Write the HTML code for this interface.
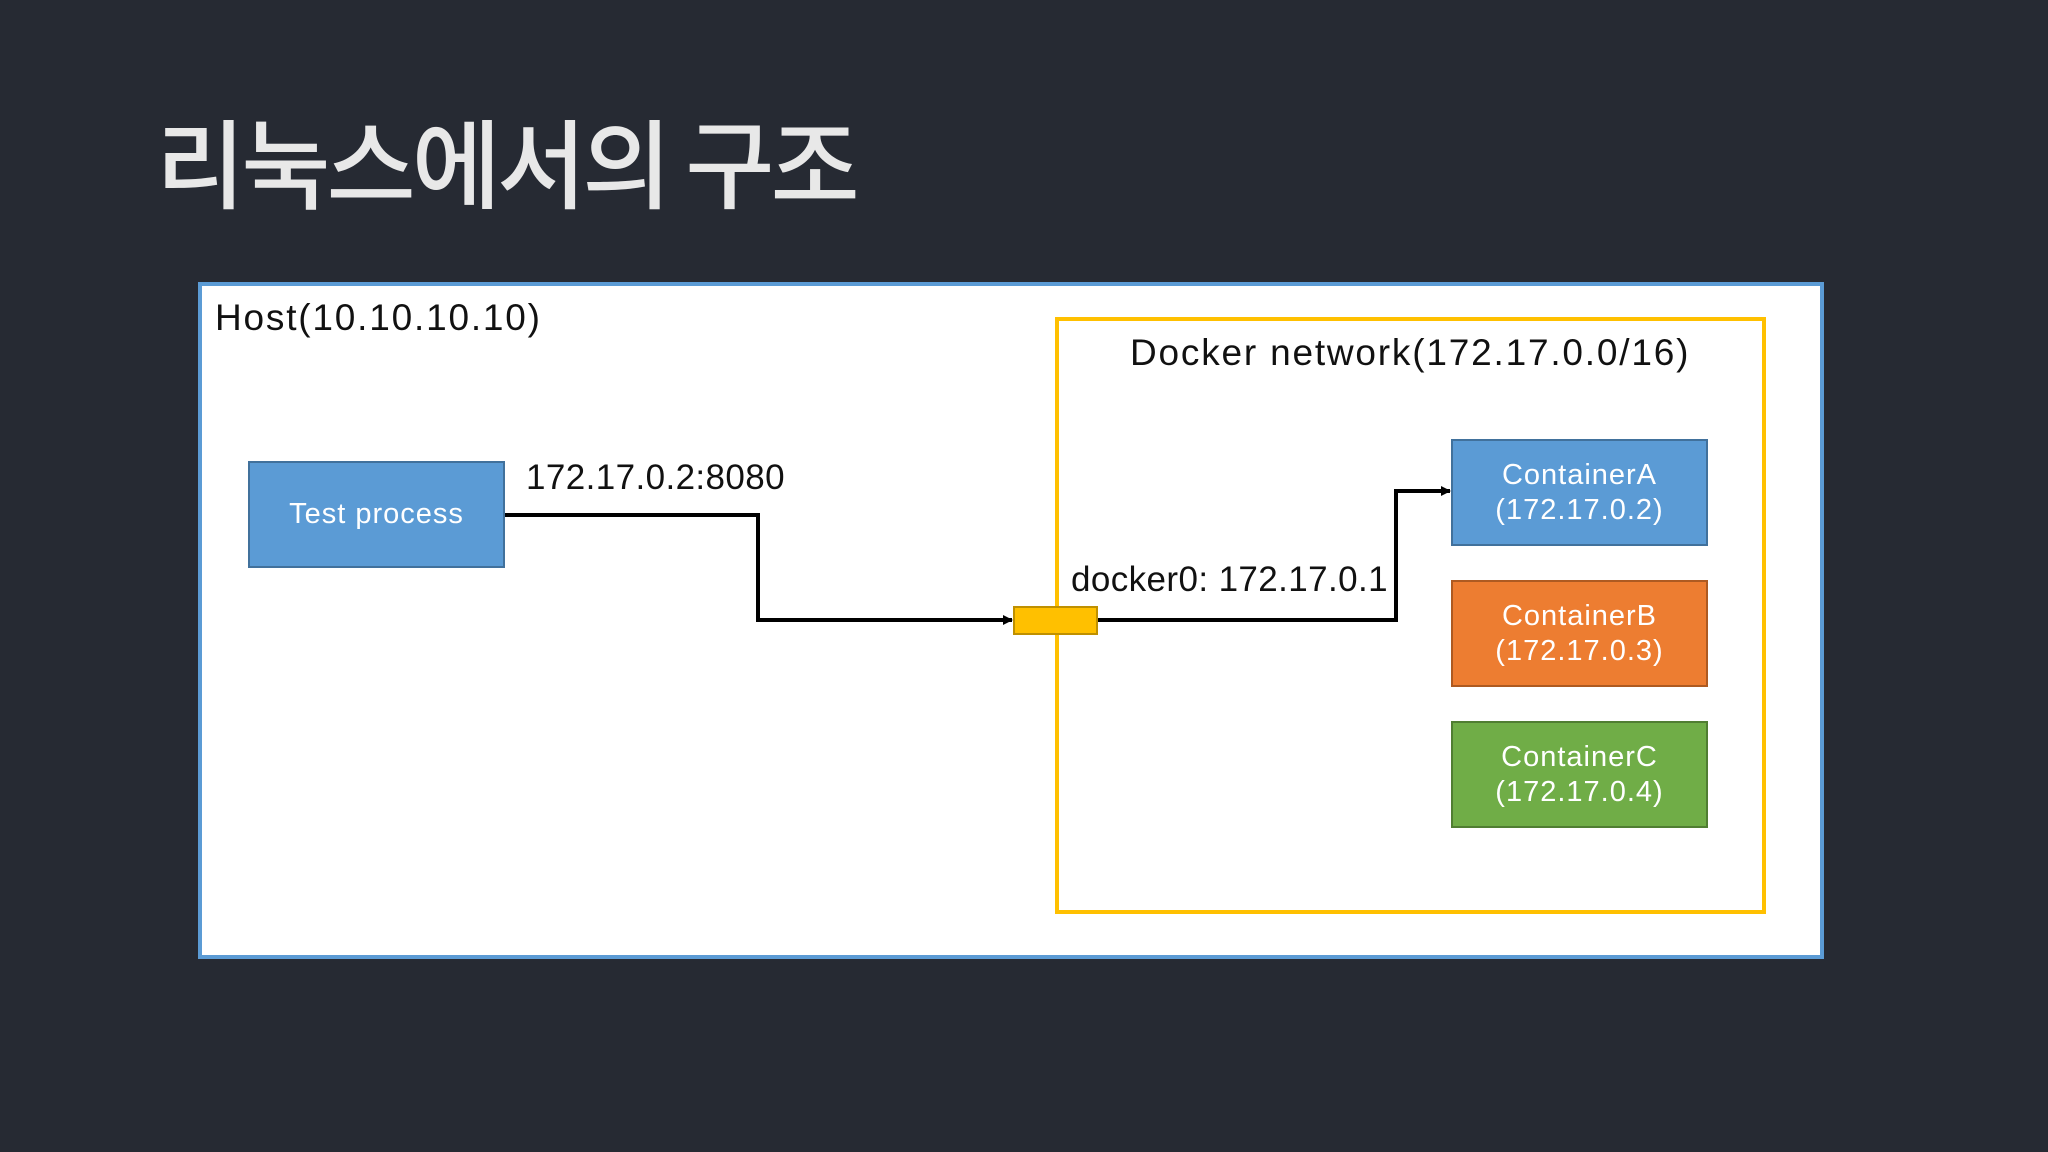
<!DOCTYPE html>
<html><head><meta charset="utf-8"><style>
body{margin:0;width:2048px;height:1152px;background:#262a33;overflow:hidden;position:relative;font-family:"Liberation Sans","Noto Sans CJK KR",sans-serif}
.a{position:absolute;box-sizing:border-box}
.t{position:absolute;white-space:nowrap;letter-spacing:1.8px}
.box{position:absolute;box-sizing:border-box;color:#fff;font-size:29px;letter-spacing:1px;text-align:center;display:flex;align-items:center;justify-content:center;line-height:1.2}
</style></head><body>
<div class="t" style="left:156px;top:88px;font-size:97px;color:#e8e8e8;font-family:'Noto Sans CJK KR',sans-serif;font-weight:500;letter-spacing:-4px">리눅스에서의 구조</div>
<div class="a" style="left:198px;top:282px;width:1626px;height:677px;background:#fff;border:4px solid #5b9bd5"></div>
<div class="t" style="left:215px;top:297px;font-size:37px;color:#111">Host(10.10.10.10)</div>
<div class="a" style="left:1055px;top:317px;width:711px;height:597px;border:4px solid #ffc000"></div>
<div class="t" style="left:1130px;top:332px;font-size:37px;color:#111">Docker network(172.17.0.0/16)</div>
<div class="box" style="left:248px;top:461px;width:257px;height:107px;background:#5b9bd5;border:2px solid #41719c">Test process</div>
<div class="t" style="left:526px;top:458px;font-size:35px;color:#111;letter-spacing:0.4px">172.17.0.2:8080</div>
<div class="t" style="left:1071px;top:560px;font-size:35px;color:#111;letter-spacing:0.4px">docker0: 172.17.0.1</div>
<svg class="a" style="left:0;top:0" width="2048" height="1152">
<defs><marker id="m" markerWidth="10" markerHeight="10" refX="9" refY="5" orient="auto" markerUnits="userSpaceOnUse"><path d="M0,0L10,5L0,10z" fill="#000"/></marker></defs>
<polyline points="505,515 758,515 758,620 1012,620" fill="none" stroke="#000" stroke-width="4" marker-end="url(#m)"/>
<polyline points="1097,620 1396,620 1396,491 1450,491" fill="none" stroke="#000" stroke-width="4" marker-end="url(#m)"/>
<rect x="1014" y="607" width="83" height="27" fill="#ffc000" stroke="#bf9000" stroke-width="2"/>
</svg>
<div class="box" style="left:1451px;top:439px;width:257px;height:107px;background:#5b9bd5;border:2px solid #41719c">ContainerA<br>(172.17.0.2)</div>
<div class="box" style="left:1451px;top:580px;width:257px;height:107px;background:#ed7d31;border:2px solid #ae5a21">ContainerB<br>(172.17.0.3)</div>
<div class="box" style="left:1451px;top:721px;width:257px;height:107px;background:#70ad47;border:2px solid #507e32">ContainerC<br>(172.17.0.4)</div>
</body></html>
